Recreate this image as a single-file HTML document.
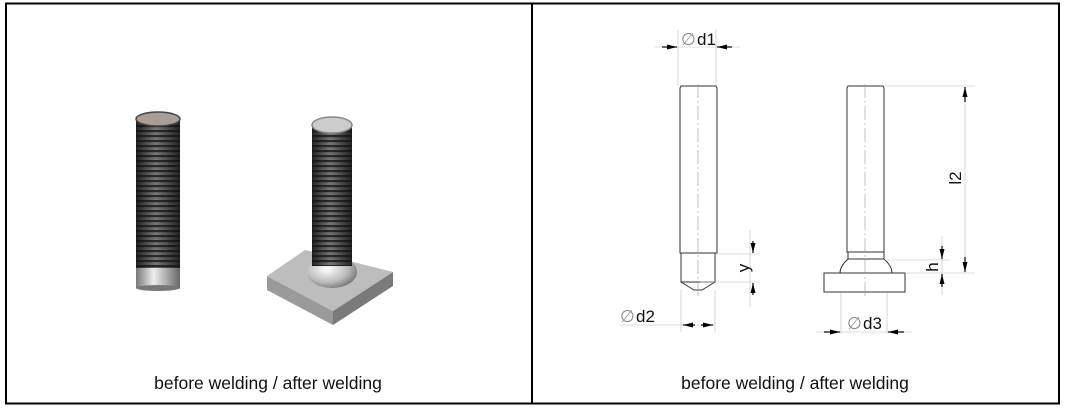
<!DOCTYPE html>
<html><head><meta charset="utf-8"><style>
body{margin:0;background:#fff;width:1065px;height:408px;overflow:hidden}
text{font-family:"Liberation Sans",sans-serif}
</style></head><body>
<svg width="1065" height="408" viewBox="0 0 1065 408" xmlns="http://www.w3.org/2000/svg">
<defs>
<linearGradient id="thr" x1="0" x2="1">
<stop offset="0" stop-color="#222"/><stop offset="0.45" stop-color="#777"/><stop offset="1" stop-color="#222"/>
</linearGradient>
<pattern id="rings" width="10" height="5" patternUnits="userSpaceOnUse">
<rect y="0" width="10" height="2.2" fill="#111" opacity="0.75"/>
</pattern>
<linearGradient id="col" x1="0" x2="1">
<stop offset="0" stop-color="#777"/><stop offset="0.4" stop-color="#eee"/><stop offset="1" stop-color="#666"/>
</linearGradient>
<radialGradient id="bulb" cx="0.4" cy="0.4" r="0.7">
<stop offset="0" stop-color="#fff"/><stop offset="0.6" stop-color="#bbb"/><stop offset="1" stop-color="#666"/>
</radialGradient>
<marker id="ar" viewBox="0 0 12 6" refX="12" refY="3" markerWidth="12" markerHeight="5" markerUnits="userSpaceOnUse" orient="auto-start-reverse">
<path d="M0,0 L12,3 L0,6 Z" fill="#000"/></marker>
</defs>
<rect x="6" y="3.5" width="1053" height="400" fill="#fff" stroke="#000" stroke-width="2"/>
<line x1="532" y1="3" x2="532" y2="404" stroke="#000" stroke-width="2"/>

<!-- left stud -->
<rect x="136" y="266" width="44" height="22" fill="url(#col)"/>
<ellipse cx="158" cy="288" rx="22" ry="3" fill="#777"/>
<rect x="136" y="120" width="44" height="148" fill="url(#thr)"/>
<rect x="136" y="120" width="44" height="148" fill="url(#rings)"/>
<ellipse cx="158" cy="119" rx="22" ry="7" fill="#a89e95" stroke="#444" stroke-width="1.5"/>

<!-- right stud and plate -->
<polygon points="267,276 333,311 333,325 267,290" fill="#9a9a9a"/>
<polygon points="333,311 393,272 393,286 333,325" fill="#7a7a7a"/>
<polygon points="267,276 305,250 393,272 333,311" fill="#bdbdbd"/>
<ellipse cx="332" cy="272" rx="25" ry="16" fill="url(#bulb)"/>
<rect x="312" y="126" width="40" height="140" fill="url(#thr)"/>
<rect x="312" y="126" width="40" height="140" fill="url(#rings)"/>
<ellipse cx="332" cy="125" rx="20" ry="8" fill="#ccc" stroke="#888" stroke-width="1.5"/>

<text x="268" y="389" font-size="17.5" text-anchor="middle" fill="#111">before welding / after welding</text>
<text x="795" y="389" font-size="17.5" text-anchor="middle" fill="#111">before welding / after welding</text>

<!-- right technical drawing -->
<g fill="none" stroke="#333" stroke-width="1">
<path d="M680,88 L681,86 L716,86 L717,88 L717,253 L680,253 Z"/>
<path d="M681,253 L681,282 L715,282 L715,253"/>
<path d="M681,282 L694,290 L702,290 L715,282"/>
<path d="M847,88 L848,86 L883,86 L884,88 L884,252 L847,252 Z"/>
<path d="M848,252 L848,259 Q840,266 840,273 L892,273 Q892,266 884,259 L884,252"/>
<line x1="848" y1="259" x2="884" y2="259"/>
<rect x="824" y="273" width="81" height="19"/>
</g>
<g stroke="#999" stroke-width="0.6" fill="none" stroke-dasharray="14,3,2,3">
<line x1="698" y1="84" x2="698" y2="296"/>
<line x1="865" y1="84" x2="865" y2="296"/>
</g>
<g stroke="#bbb" stroke-width="0.6">
<line x1="678" y1="30" x2="678" y2="86"/><line x1="716" y1="30" x2="716" y2="86"/>
<line x1="654" y1="47" x2="740" y2="47"/>
<line x1="681" y1="290" x2="681" y2="332"/><line x1="715" y1="290" x2="715" y2="332"/>
<line x1="620" y1="325" x2="715" y2="325"/>
<line x1="717" y1="254" x2="760" y2="254"/><line x1="700" y1="282" x2="760" y2="282"/>
<line x1="750" y1="230" x2="750" y2="307"/>
<line x1="884" y1="86" x2="975" y2="86"/><line x1="906" y1="273" x2="975" y2="273"/>
<line x1="965" y1="86" x2="965" y2="273"/>
<line x1="884" y1="260" x2="950" y2="260"/>
<line x1="942" y1="236" x2="942" y2="295"/>
<line x1="841" y1="293" x2="841" y2="334"/><line x1="887" y1="293" x2="887" y2="334"/>
<line x1="816" y1="332" x2="912" y2="332"/>
</g>
<g stroke="#000" stroke-width="1.2">
<line x1="662" y1="47" x2="677" y2="47" marker-end="url(#ar)"/>
<line x1="732" y1="47" x2="717" y2="47" marker-end="url(#ar)"/>
<line x1="683" y1="325" x2="695" y2="325" marker-start="url(#ar)"/>
<line x1="713" y1="325" x2="701" y2="325" marker-start="url(#ar)"/>
<line x1="753" y1="241" x2="753" y2="253" marker-end="url(#ar)"/>
<line x1="753" y1="295" x2="753" y2="283" marker-end="url(#ar)"/>
<line x1="965" y1="102" x2="965" y2="87" marker-end="url(#ar)"/>
<line x1="965" y1="257" x2="965" y2="272" marker-end="url(#ar)"/>
<line x1="942" y1="246" x2="942" y2="259" marker-end="url(#ar)"/>
<line x1="942" y1="287" x2="942" y2="274" marker-end="url(#ar)"/>
<line x1="824" y1="332" x2="840" y2="332" marker-end="url(#ar)"/>
<line x1="904" y1="332" x2="888" y2="332" marker-end="url(#ar)"/>
</g>
<g font-size="17" fill="#111">
<text x="681" y="45" fill="#888">∅</text><text x="697" y="45">d1</text>
<text x="620" y="322" fill="#888">∅</text><text x="636" y="322">d2</text>
<text x="847" y="329" fill="#888">∅</text><text x="863" y="329">d3</text>
<text transform="translate(749,268) rotate(-90)" text-anchor="middle">y</text>
<text transform="translate(938,267) rotate(-90)" text-anchor="middle">h</text>
<text transform="translate(961,178) rotate(-90)" text-anchor="middle">l2</text>
</g>
</svg>
</body></html>
